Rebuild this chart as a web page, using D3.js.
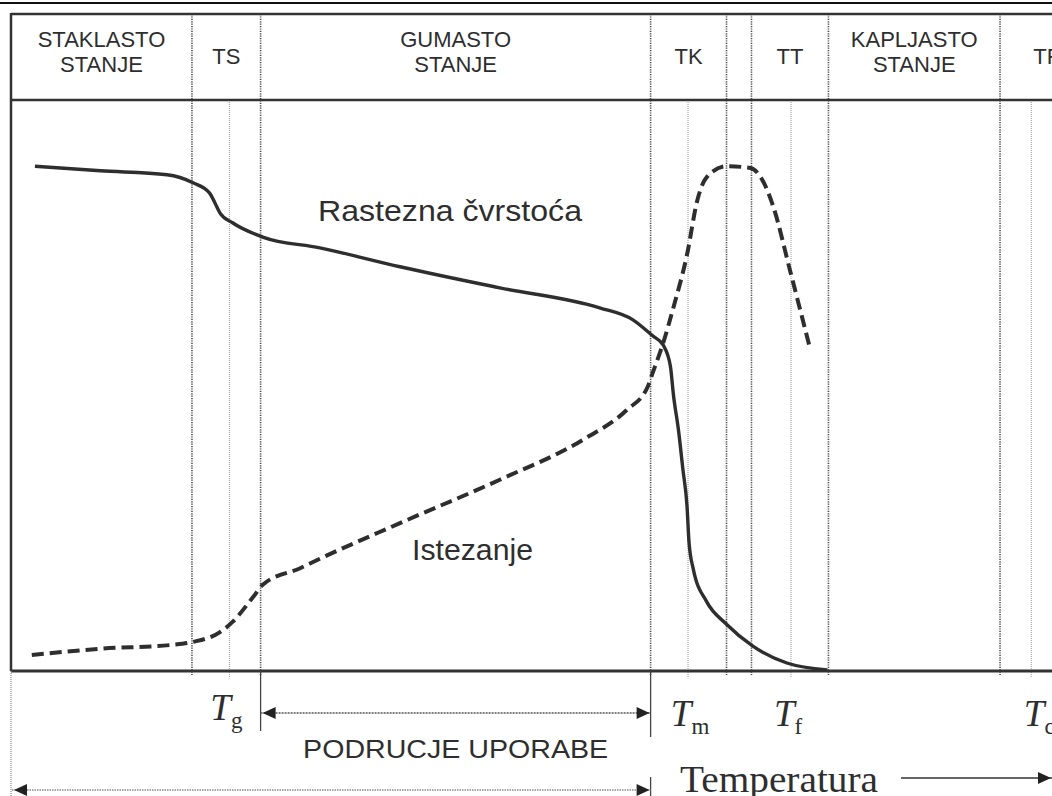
<!DOCTYPE html>
<html><head><meta charset="utf-8">
<script src="https://cdn.jsdelivr.net/npm/d3@7"></script>
<style>body{margin:0;background:#fff}svg{display:block}</style>
</head><body><svg id="c" width="1052" height="796"></svg>
<script>
// ---- data (temperature axis 0..100, property axis 0..100) ----
const majorBounds = [17.4, 24.0, 61.5, 68.8, 71.2, 78.6, 95.1];
const minorBounds = [21.0, 65.1, 75.0, 98.1];
const regionEdges = [0, 17.4, 24.0, 61.5, 68.8, 71.2, 78.6, 95.1, 104.3];
const regionLabels = [["STAKLASTO", "STANJE"], ["TS"], ["GUMASTO", "STANJE"], ["TK"], [], ["TT"], ["KAPLJASTO", "STANJE"], ["TR"]];

const strengthT = [2.3, 8.6, 15.0, 17.5, 19.1, 19.6, 20.1, 21.3, 24.2, 29.7, 37.4, 47.0, 56.6, 59.8, 61.7, 62.7, 63.4, 63.7, 64.2, 64.6, 65.0, 65.2, 65.6, 66.9, 68.8, 71.3, 74.6, 78.5];
const strengthV = [88.4, 87.6, 86.9, 85.5, 83.7, 82.0, 80.2, 78.5, 76.0, 74.1, 70.8, 67.1, 63.6, 61.5, 58.7, 57.1, 53.4, 48.3, 41.9, 35.4, 28.9, 22.4, 17.9, 12.1, 8.2, 4.4, 1.4, 0.2];

const elongT = [2.0, 8.6, 15.6, 17.5, 20.1, 21.3, 23.3, 24.2, 27.8, 29.4, 37.4, 47.0, 55.0, 59.2, 61.2, 61.7, 62.7, 63.7, 65.0, 66.0, 66.9, 68.8, 71.1, 72.3, 73.3, 74.9, 76.8];
const elongV = [2.8, 3.9, 4.6, 5.1, 6.8, 8.6, 13.0, 15.1, 18.0, 19.4, 25.9, 33.5, 40.5, 45.7, 49.7, 52.2, 57.4, 63.7, 72.9, 82.5, 86.5, 88.4, 88.1, 85.8, 81.3, 70.2, 56.7];

const tempMarks = [21.0, 65.1, 75.0, 98.1];
const tempSubs = ["g", "m", "f", "c"];
const useRange = [24.0, 61.5];
const fullRange = [0, 61.5];
const seriesLabels = ["Rastezna čvrstoća", "Istezanje"];
const rangeLabel = "PODRUCJE UPORABE";
const axisLabel = "Temperatura";

// ---- layout ----
const svg = d3.select("#c");
const W = 1052;
const frameTop = 14, headBot = 100, bot = 671;
const x = d3.scaleLinear().domain([0, 100]).range([11, 1051]);
const y = d3.scaleLinear().domain([0, 100]).range([bot, headBot]);
const dark = "#2e2e2e";
const sans = "'Liberation Sans', Arial, sans-serif";
const serif = "'Liberation Serif', 'Times New Roman', serif";

// top rule of page
svg.append("line").attr("x1", 0).attr("x2", W).attr("y1", 3).attr("y2", 3).attr("stroke", "#111").attr("stroke-width", 2);

// minor (thin) lines
svg.selectAll(".minor").data(minorBounds).join("line")
  .attr("x1", d => x(d)).attr("x2", d => x(d)).attr("y1", headBot).attr("y2", bot + 6)
  .attr("stroke", "#9a9a9a").attr("stroke-width", 1).attr("stroke-dasharray", "1,1");
// major dotted dividers
svg.selectAll(".major").data(majorBounds).join("line")
  .attr("x1", d => x(d)).attr("x2", d => x(d)).attr("y1", frameTop).attr("y2", bot + 4)
  .attr("stroke", "#4a4a4a").attr("stroke-width", 1.6).attr("stroke-dasharray", "1.2,1.2");

// frame
const frame = svg.append("g").attr("stroke", "#333");
frame.append("line").attr("x1", 11).attr("x2", W).attr("y1", frameTop).attr("y2", frameTop).attr("stroke-width", 2.5);
frame.append("line").attr("x1", 11).attr("x2", W).attr("y1", headBot).attr("y2", headBot).attr("stroke-width", 2.5);
frame.append("line").attr("x1", 11).attr("x2", W).attr("y1", bot).attr("y2", bot).attr("stroke-width", 3);
frame.append("line").attr("x1", 11).attr("x2", 11).attr("y1", frameTop - 1).attr("y2", bot).attr("stroke-width", 2.5);
frame.append("line").attr("x1", 11).attr("x2", 11).attr("y1", bot).attr("y2", 796).attr("stroke-width", 1.2).attr("stroke", "#888").attr("stroke-dasharray", "1,1");

// header labels
regionLabels.forEach((lines, i) => {
  const cx = x((regionEdges[i] + regionEdges[i + 1]) / 2);
  const base = lines.length === 2 ? [47, 72] : [64];
  lines.forEach((t, j) => {
    svg.append("text").attr("x", cx).attr("y", base[j]).attr("text-anchor", "middle")
      .attr("font-family", sans).attr("font-size", 22).attr("fill", dark).text(t);
  });
});

// curves
const line = d3.line().x(d => x(d[0])).y(d => y(d[1])).curve(d3.curveMonotoneX);
svg.append("path").attr("d", line(d3.zip(strengthT, strengthV)))
  .attr("fill", "none").attr("stroke", dark).attr("stroke-width", 3.4).attr("stroke-linejoin", "round");
svg.append("path").attr("d", line(d3.zip(elongT, elongV)))
  .attr("fill", "none").attr("stroke", dark).attr("stroke-width", 4).attr("stroke-dasharray", "12,6");

// series labels
svg.append("text").attr("x", 318).attr("y", 221).attr("font-family", sans).attr("font-size", 29)
  .attr("fill", dark).attr("textLength", 264).attr("lengthAdjust", "spacingAndGlyphs").text(seriesLabels[0]);
svg.append("text").attr("x", 412).attr("y", 560).attr("font-family", sans).attr("font-size", 29)
  .attr("fill", dark).attr("textLength", 121).attr("lengthAdjust", "spacingAndGlyphs").text(seriesLabels[1]);

// ticks below plot
const tick = (t, y1, y2) => svg.append("line").attr("x1", x(t)).attr("x2", x(t)).attr("y1", y1).attr("y2", y2)
  .attr("stroke", "#444").attr("stroke-width", 1.3);
tick(useRange[0], bot, 731);
tick(useRange[1], bot, 737);
tick(fullRange[1], 777, 796);

// temperature mark labels
const labelDx = [-3, 2, -3, 8];
tempMarks.forEach((t, i) => {
  const tx = svg.append("text").attr("x", x(t) + labelDx[i]).attr("y", i === 0 ? 720 : 726).attr("text-anchor", "middle")
    .attr("font-family", serif).attr("font-size", 37).attr("fill", dark);
  tx.append("tspan").attr("font-style", "italic").text("T");
  tx.append("tspan").attr("font-size", 23).attr("dy", 8).text(tempSubs[i]);
});

// arrows
function arrowHead(xTip, yy, dir) {
  const L = 13, H = 6;
  svg.append("path").attr("d", `M${xTip},${yy}L${xTip - dir * L},${yy - H}L${xTip - dir * L},${yy + H}Z`).attr("fill", "#222");
}
function hArrow(x1, x2, yy, both, color, dash) {
  svg.append("line").attr("x1", x1).attr("x2", x2).attr("y1", yy).attr("y2", yy)
    .attr("stroke", color).attr("stroke-width", 1.4).attr("stroke-dasharray", dash);
  arrowHead(x2 - 1, yy, 1);
  if (both) arrowHead(x1 + 2, yy, -1);
}
hArrow(x(useRange[0]), x(useRange[1]), 713, true, "#555", "2,1");
hArrow(x(fullRange[0]) + 1, x(fullRange[1]), 790, true, "#888", "1.5,1");
hArrow(901, W, 778, false, "#333", null);

svg.append("text").attr("x", x((useRange[0] + useRange[1]) / 2)).attr("y", 758).attr("text-anchor", "middle")
  .attr("font-family", sans).attr("font-size", 25).attr("fill", dark)
  .attr("textLength", 305).attr("lengthAdjust", "spacingAndGlyphs").text(rangeLabel);
svg.append("text").attr("x", 680).attr("y", 792).attr("font-family", serif).attr("font-size", 37)
  .attr("fill", dark).attr("textLength", 198).attr("lengthAdjust", "spacingAndGlyphs").text(axisLabel);
</script></body></html>
